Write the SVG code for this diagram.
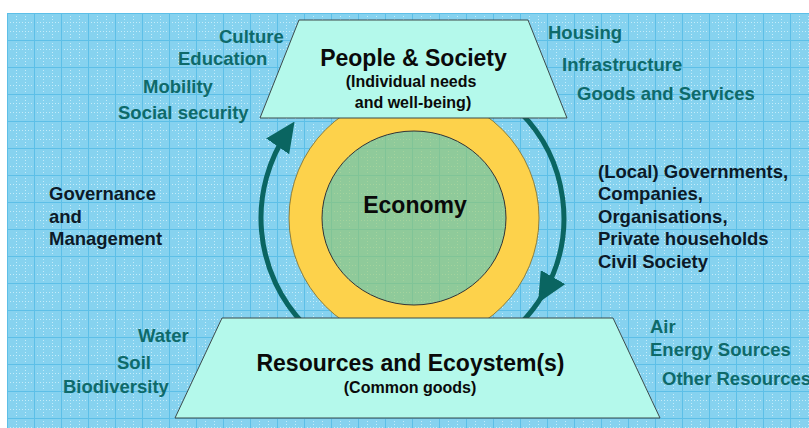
<svg xmlns="http://www.w3.org/2000/svg" width="809" height="428" viewBox="0 0 809 428">
  <defs>
    <pattern id="grid" width="27" height="27" patternUnits="userSpaceOnUse" x="7" y="13">
      <rect width="27" height="27" fill="#86d2ef"/>
      <path d="M0 9.5H27M0 18.5H27M9.5 0V27M18.5 0V27" stroke="#c4ecfa" stroke-width="1" stroke-dasharray="1 2"/>
      <path d="M0 0.5H27M0.5 0V27" stroke="#5dbfe7" stroke-width="1"/>
    </pattern>
    <marker id="head" markerUnits="userSpaceOnUse" markerWidth="30" markerHeight="28" refX="18" refY="14" orient="auto">
      <path d="M0 0L30 14L0 28Z" fill="#0a6561"/>
    </marker>
    <style>
      text { font-family: "Liberation Sans", Arial, sans-serif; font-weight: bold; }
      .side { font-size: 18.5px; fill: #0e6a6a; }
      .actor { font-size: 18.5px; fill: #0c1a28; }
      .title { font-size: 23px; fill: #0a0a0a; text-anchor: middle; }
      .sub { font-size: 16px; fill: #0a0a0a; text-anchor: middle; }
      .plate { fill: #b4f9eb; stroke: #3d4b4b; stroke-width: 1; }
      .flow { fill: none; stroke: #0a6561; stroke-width: 5; }
    </style>
  </defs>

  <!-- backdrop -->
  <rect width="809" height="428" fill="#ffffff"/>
  <rect x="7" y="13" width="802" height="415" fill="url(#grid)"/>

  <!-- circulation arcs -->
  <g id="connectors">
    <path class="flow" d="M304.6 325A153 153 0 0 1 287.8 131.5" marker-end="url(#head)"/>
    <path class="flow" d="M520 112A150 150 0 0 1 544 292.7" marker-end="url(#head)"/>
    <path class="flow" d="M544 292.7A150 150 0 0 1 519 325"/>
  </g>

  <g id="economy">
    <circle cx="414" cy="218" r="125" fill="#fdd24b" stroke="#7d6a2a" stroke-width="0.8"/>
    <ellipse cx="414" cy="218" rx="92" ry="87" fill="url(#grid)"/>
    <ellipse cx="414" cy="218" rx="92" ry="87" fill="#93c66c" fill-opacity="0.65" stroke="#333" stroke-width="1"/>
    <text class="title" x="415" y="213">Economy</text>
  </g>

  <g id="people-society">
    <polygon class="plate" points="299,20 528,20 567,118 260,118"/>
    <text class="title" x="413.5" y="65.5">People &amp; Society</text>
    <text class="sub" x="411" y="87">(Individual needs</text>
    <text class="sub" x="413" y="108">and well-being)</text>
  </g>

  <g id="resources">
    <polygon class="plate" points="222,318 613,318 660,418 175,418"/>
    <text class="title" x="410.5" y="371">Resources and Ecoystem(s)</text>
    <text class="sub" x="410" y="393">(Common goods)</text>
  </g>

  <g id="needs">
    <text class="side" x="219" y="43">Culture</text>
    <text class="side" x="178" y="65">Education</text>
    <text class="side" x="143" y="93">Mobility</text>
    <text class="side" x="118" y="119">Social security</text>
  </g>

  <g id="provision">
    <text class="side" x="548" y="39">Housing</text>
    <text class="side" x="562" y="71">Infrastructure</text>
    <text class="side" x="577" y="100">Goods and Services</text>
  </g>

  <g id="governance">
    <text class="actor" x="49" y="200">Governance</text>
    <text class="actor" x="49" y="223">and</text>
    <text class="actor" x="49" y="245">Management</text>
  </g>

  <g id="actors">
    <text class="actor" x="598" y="178">(Local) Governments,</text>
    <text class="actor" x="598" y="200">Companies,</text>
    <text class="actor" x="598" y="223">Organisations,</text>
    <text class="actor" x="598" y="245">Private households</text>
    <text class="actor" x="598" y="268">Civil Society</text>
  </g>

  <g id="commons-left">
    <text class="side" x="138" y="342">Water</text>
    <text class="side" x="117" y="369">Soil</text>
    <text class="side" x="63" y="393">Biodiversity</text>
  </g>

  <g id="commons-right">
    <text class="side" x="650" y="333">Air</text>
    <text class="side" x="650" y="356">Energy Sources</text>
    <text class="side" x="662" y="385">Other Resources</text>
  </g>
</svg>
